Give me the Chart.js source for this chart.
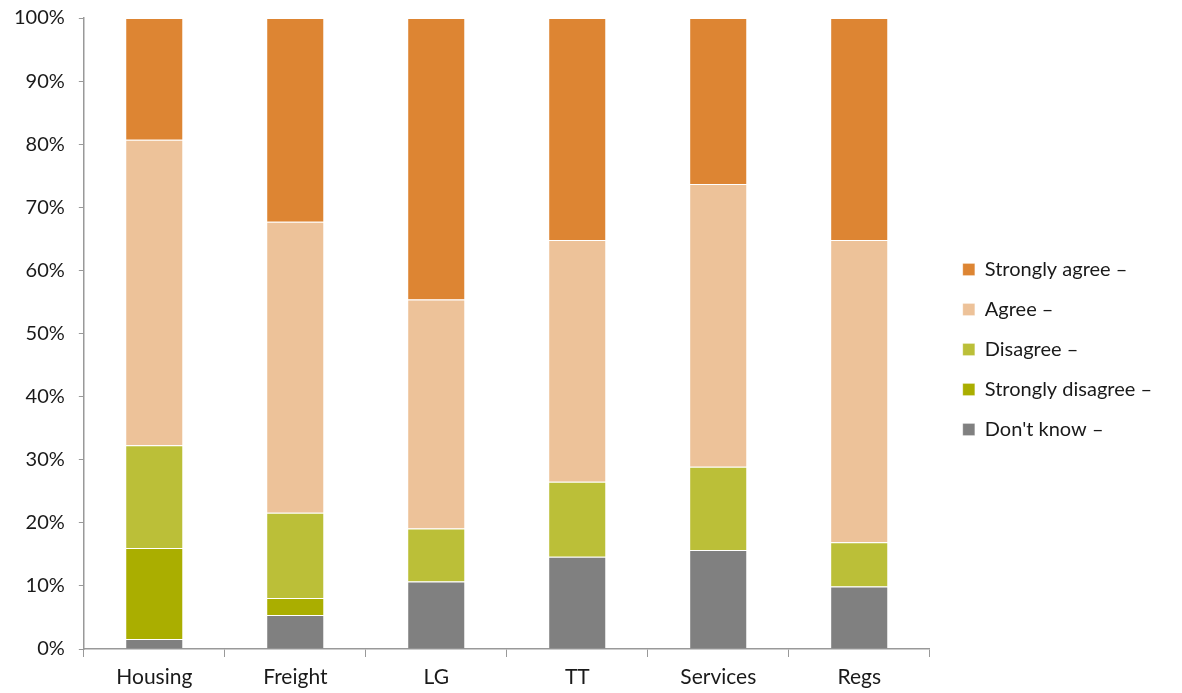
<!DOCTYPE html>
<html>
<head>
<meta charset="utf-8">
<script src="https://cdn.jsdelivr.net/npm/chart.js@4.4.0/dist/chart.umd.min.js"></script>
<style>
  html, body { margin: 0; padding: 0; background: #fff; }
  #wrap { position: relative; width: 1182px; height: 693px; }
</style>
</head>
<body>
<div id="wrap"><canvas id="chart"></canvas></div>
<script>
// categories along the x axis
var categories = ['Housing', 'Freight', 'LG', 'TT', 'Services', 'Regs'];

// shares in percent (bottom to top)
var dontKnow = [1.6, 5.4, 10.7, 14.6, 15.7, 9.9];
var stronglyDisagree = [14.4, 2.7, 0, 0, 0, 0];
var disagree = [16.3, 13.5, 8.4, 11.9, 13.2, 7.0];
var agree = [48.4, 46.1, 36.3, 38.3, 44.8, 47.9];
var stronglyAgree = [19.3, 32.3, 44.6, 35.2, 26.3, 35.2];

var yTicks = [0, 10, 20, 30, 40, 50, 60, 70, 80, 90, 100];

Chart.defaults.font.family = 'Lato, "Noto Sans", sans-serif';
Chart.defaults.font.size = 20;
Chart.defaults.color = '#1a1a1a';

function ds(label, data, color) {
    return {
        label: label,
        data: data,
        backgroundColor: color,
        borderColor: '#ffffff',
        borderWidth: { top: 1, bottom: 0, left: 0, right: 0 },
        borderSkipped: false,
        categoryPercentage: 1,
        barPercentage: 0.4
    };
}

// nudge the legend a little away from the plot, like the original
var legendShift = {
    id: 'legendShift',
    afterLayout: function(chart) {
        var lg = chart.legend;
        lg.left += 13; lg.right += 13;
        lg.top -= 6; lg.bottom -= 6;
    }
};

var ctx = document.getElementById('chart').getContext('2d');
var chart = new Chart(ctx, {
    type: 'bar',
    data: {
        labels: categories,
        datasets: [
            ds("Don't know –", dontKnow, '#808080'),
            ds('Strongly disagree –', stronglyDisagree, '#aaae00'),
            ds('Disagree –', disagree, '#bbbf38'),
            ds('Agree –', agree, '#edc299'),
            ds('Strongly agree –', stronglyAgree, '#dd8533')
        ]
    },
    plugins: [legendShift],
    options: {
        responsive: true,
        maintainAspectRatio: false,
        animation: false,
        layout: { padding: { top: 18, right: 33, left: 0, bottom: 0 } },
        plugins: {
            tooltip: { enabled: false },
            legend: {
                position: 'right',
                reverse: true,
                labels: {
                    boxWidth: 12,
                    boxHeight: 12,
                    padding: 20,
                    font: { size: 20 },
                    color: '#1a1a1a'
                }
            }
        },
        scales: {
            x: {
                stacked: true,
                afterFit: function(axis) {
                    axis.height = 44;
                    axis.paddingLeft = 0;
                    axis.paddingRight = 0;
                },
                grid: {
                    offset: true,
                    drawOnChartArea: false,
                    drawTicks: true,
                    tickLength: 8,
                    color: '#999'
                },
                border: { color: '#999', width: 1.5 },
                ticks: { padding: 8, font: { size: 21 } }
            },
            y: {
                stacked: true,
                min: 0,
                max: 100,
                afterFit: function(axis) {
                    axis.paddingTop = 0;
                    axis.paddingBottom = 0;
                },
                afterBuildTicks: function(axis) {
                    axis.ticks = yTicks.map(function(v) { return { value: v }; });
                },
                grid: {
                    drawOnChartArea: false,
                    drawTicks: true,
                    tickLength: 5,
                    color: '#999'
                },
                border: { color: '#999', width: 1.5 },
                ticks: {
                    padding: 14,
                    callback: function(v) { return v + '%'; }
                }
            }
        }
    }
});
</script>
</body>
</html>
